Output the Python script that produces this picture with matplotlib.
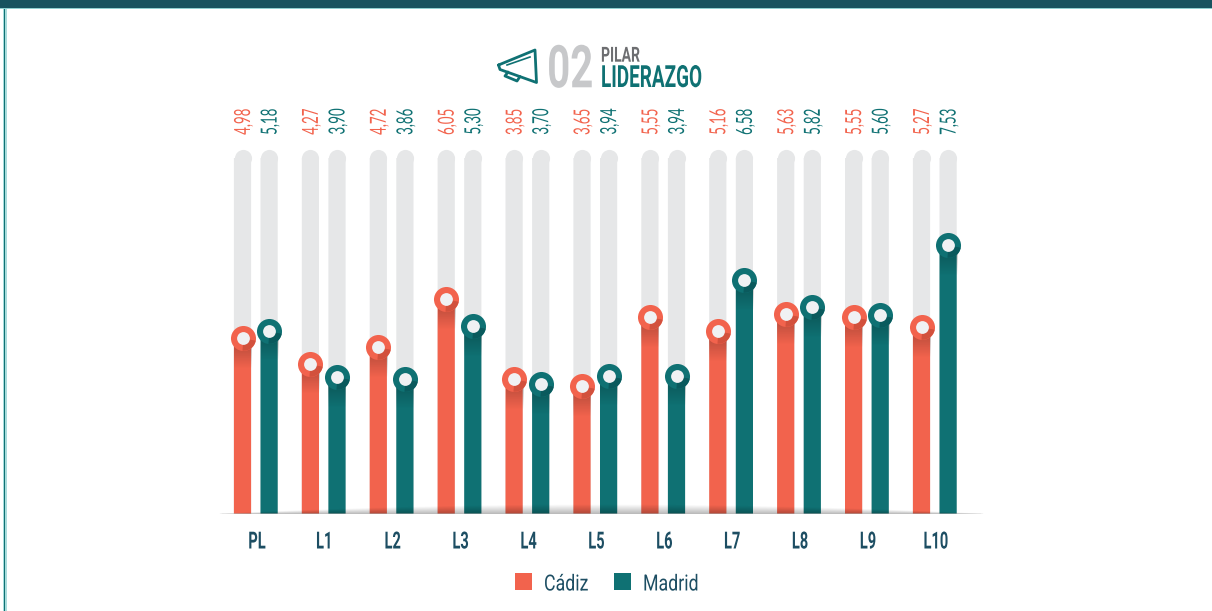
import numpy as np
import matplotlib
matplotlib.use('Agg')
import matplotlib.pyplot as plt
from matplotlib.path import Path
from matplotlib.patches import Rectangle
from matplotlib.patheffects import AbstractPathEffect
from matplotlib.transforms import Affine2D

categories = ['PL', 'L1', 'L2', 'L3', 'L4', 'L5', 'L6', 'L7', 'L8', 'L9', 'L10']
cadiz = [4.98, 4.27, 4.72, 6.05, 3.85, 3.65, 5.55, 5.16, 5.63, 5.55, 5.27]
madrid = [5.18, 3.90, 3.86, 5.30, 3.70, 3.94, 3.94, 6.58, 5.82, 5.60, 7.53]
y_floor = 0.14
y_top = 9.95

coral = '#f2634d'
coral_dark = '#d2513d'
teal = '#0f7173'
teal_dark = '#0a5a5d'
navy = '#1d4e63'
track = '#e6e7e8'
hole = '#f0f1f3'

plt.rcParams['font.family'] = ['Roboto', 'DejaVu Sans']


class Squeeze(AbstractPathEffect):
    # no condensed font installed, so narrow the glyphs along the text direction
    def __init__(self, sx, anchor='left'):
        super().__init__()
        self.sx = sx
        self.anchor = anchor

    def draw_path(self, renderer, gc, tpath, affine, rgbFace=None):
        ext = tpath.get_extents()
        cx = {'left': 0, 'center': (ext.x0 + ext.x1) / 2, 'right': ext.x1}[self.anchor]
        t = Affine2D().translate(-cx, 0).scale(self.sx, 1).translate(cx, 0) + affine
        renderer.draw_path(gc, tpath, t, rgbFace)


W, H = 1212, 611
fig = plt.figure(figsize=(W / 100, H / 100), dpi=100, facecolor='white')

# chart axes, placed in pixels so the floor sits at y=513.5
step = 67.9
left = 255.8 - step / 2
base = 513.5
top = 157.5
ax = fig.add_axes([left / W, (H - base) / H, step * 11 / W, (base - top) / H])
ax.axis('off')

bar_w = 17.2 / step
offset = 13.3 / step
x = np.arange(len(categories))
fade_img = np.zeros((64, 1, 4))
fade_img[:, 0, 3] = 0.28 * np.linspace(0, 1, 64)


def draw_series(xs, values, color, dark):
    # grey track with rounded top
    ax.bar(xs, y_top - y_floor, bar_w, bottom=y_floor, color=track, zorder=1, snap=False)
    ax.scatter(xs, [y_top] * len(xs), s=152, color=track, linewidths=0, zorder=1, clip_on=False)
    ax.bar(xs, np.array(values) - y_floor, bar_w, bottom=y_floor, color=color, zorder=2, snap=False)
    for xi, v in zip(xs, values):
        # darker band under the marker
        ax.imshow(fade_img, origin='lower', aspect='auto', zorder=3,
                  extent=(xi - bar_w / 2, xi + bar_w / 2, v - 0.85, v))
        ax.annotate(f'{v:.2f}'.replace('.', ','), (xi, y_floor), xycoords='data',
                    xytext=(xi + 7.5 / step, H - 108), textcoords=('data', 'figure pixels'),
                    rotation=90, ha='right', va='baseline', rotation_mode='anchor',
                    color=color, fontsize=16, family=['Lato', 'DejaVu Sans'], fontweight=400,
                    path_effects=[Squeeze(0.6, anchor='right')])
    ax.scatter(xs, values, s=325, color=color, linewidths=0, zorder=4, clip_on=False)
    ax.scatter(xs, values, s=325, color=dark, linewidths=0, zorder=5, clip_on=False,
               marker=Path.wedge(-95, -10))
    ax.scatter(xs, values, s=85, color=hole, linewidths=0, zorder=6, clip_on=False)


draw_series(x - offset, cadiz, coral, coral_dark)
draw_series(x + offset, madrid, teal, teal_dark)
ax.set_xlim(-0.5, 10.5)
ax.set_ylim(y_floor, y_top)

for xi, name in zip(x, categories):
    ax.annotate(name, (xi, y_floor), xycoords='data',
                xytext=(xi + 1 / step, H - 548.5), textcoords=('data', 'figure pixels'),
                ha='center', va='baseline', color=navy, fontsize=17, fontweight='bold',
                path_effects=[Squeeze(0.62, anchor='center')])

# overlay in pixel coordinates for frame, header and legend
over = fig.add_axes([0, 0, 1, 1], zorder=10)
over.axis('off')
over.patch.set_alpha(0)

# soft floor shadow
gx, gy = np.meshgrid(np.linspace(-1, 1, 400), np.linspace(0, 1, 30))
lens = np.clip(1 - gx ** 2, 0, 1)
shadow = np.zeros((30, 400, 4))
shadow[..., 3] = 0.28 * np.clip((gy - (1 - lens)) / np.maximum(lens, 0.02), 0, 1) * (lens > 0)
over.imshow(shadow, extent=(218, 985, 514, 504), aspect='auto', zorder=1, origin='upper')
over.set_xlim(0, W)
over.set_ylim(H, 0)

# frame
over.add_patch(Rectangle((0, 0), W, 8, color='#18535f', lw=0))
over.add_patch(Rectangle((0, 8), W, 1, color='#8fd0d0', lw=0))
over.add_patch(Rectangle((3, 9), 3.5, H, color='#a8dcdc', lw=0))
over.add_patch(Rectangle((4, 9), 1.4, H, color=teal, lw=0))

# megaphone
icon_kw = dict(color=teal, lw=2.0, solid_joinstyle='round', solid_capstyle='round')
over.plot([498.5, 535, 536.5, 500, 498.5], [65, 50, 82.5, 69.5, 65], **icon_kw)
over.plot([507, 530], [65, 57], color=teal, lw=1.2)
over.plot([508, 505, 517, 520], [72, 76, 81, 76.5], **icon_kw)

over.text(594, 87.3, '02', color='#c7c8ca', fontsize=42.5, ha='right', va='baseline', fontweight='bold',
          path_effects=[Squeeze(0.68, anchor='right')])
over.text(601, 61.7, 'PILAR', color='#6d6e71', fontsize=15, ha='left', va='baseline', fontweight='bold',
          path_effects=[Squeeze(0.67)])
over.text(601, 87, 'LIDERAZGO', color=teal, fontsize=22, ha='left', va='baseline', fontweight='bold',
          path_effects=[Squeeze(0.62)])

# legend
over.add_patch(Rectangle((515, 573), 17, 17, color=coral, lw=0))
over.add_patch(Rectangle((614, 573), 17, 17, color=teal, lw=0))
over.text(544, 590.5, 'Cádiz', color=navy, fontsize=16, ha='left', va='baseline', path_effects=[Squeeze(0.8)])
over.text(643, 590.5, 'Madrid', color=navy, fontsize=16, ha='left', va='baseline', path_effects=[Squeeze(0.8)])

fig.savefig('out.png', dpi=100)
